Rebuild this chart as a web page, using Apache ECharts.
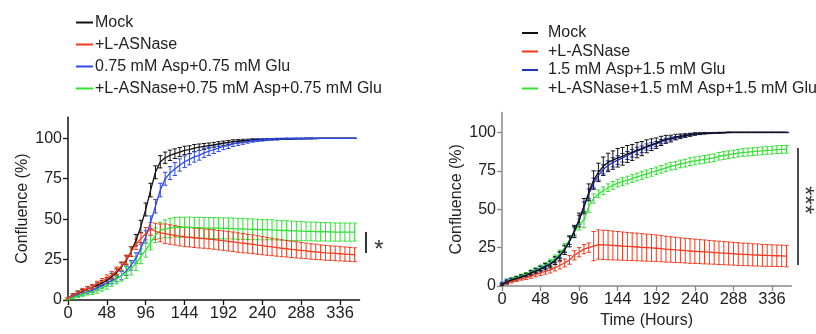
<!DOCTYPE html>
<html><head><meta charset="utf-8">
<script src="https://cdn.jsdelivr.net/npm/echarts@6/dist/echarts.min.js"></script>
<style>html,body{margin:0;padding:0;background:#fff}#c{width:816px;height:334px}</style>
</head><body><div id="c"></div>
<script>
// ---------- DATA ----------
const hours = [0,6,12,18,24,30,36,42,48,54,
 60,66,72,78,84,90,96,102,108,114,
 120,126,132,138,144,150,156,162,168,174,
 180,186,192,198,204,210,216,222,228,234,
 240,246,252,258,264,270,276,282,288,294,
 300,306,312,318,324,330,336,342,348,354];
const xTicks = [0,48,96,144,192,240,288,336];
const yTicks = [0,25,50,75,100];

const leftNames = ['Mock','+L-ASNase','0.75 mM Asp+0.75 mM Glu','+L-ASNase+0.75 mM Asp+0.75 mM Glu'];
const rightNames = ['Mock','+L-ASNase','1.5 mM Asp+1.5 mM Glu','+L-ASNase+1.5 mM Asp+1.5 mM Glu'];

const leftMock = [1,3,4.5,5.5,7,8,9,10.5,12,14.5,
 17,20.5,24.5,30,37,45.5,56,68,79,85.5,
 88,89.5,90.5,91.5,92.5,93,94,94.5,95,95.5,
 96,96.5,97,97.5,98,98.2,98.5,98.7,99,99.1,
 99.2,99.3,99.4,99.5,99.6,99.7,99.7,99.8,99.8,99.9,
 99.9,99.9,100,100,100,100,100,100,100,100];
const leftMockErr = [0.5,0.8,1,1,1.2,1.3,1.5,1.6,1.8,2,
 2.2,2.5,2.8,3,3.5,3.8,4,4.2,4,3.8,
 3.5,3.2,3,2.8,2.6,2.4,2.2,2,1.8,1.6,
 1.5,1.4,1.3,1.2,1.1,1,0.9,0.8,0.7,0.6,
 0.5,0.5,0.4,0.4,0.3,0.3,0.3,0.2,0.2,0.2,
 0.2,0.1,0.1,0.1,0.1,0.1,0.1,0.1,0.1,0.1];
const leftAsnase = [1,3,4.5,6,7,8,10,11.5,13.5,15.5,
 18,21,25,30,34.5,38,41,44,42.5,41.5,
 41,40.5,40,39.5,39,38.8,38.5,38.2,38,37.7,
 37.4,37,36.7,36.3,36,35.5,35.2,34.8,34.5,34,
 33.6,33.2,32.8,32.4,32,31.7,31.3,31,30.7,30.4,
 30,29.8,29.5,29.2,29,28.8,28.6,28.4,28.2,28];
const leftAsnaseErr = [0.5,0.8,1,1.2,1.3,1.5,1.6,1.8,2,2.2,
 2.4,2.6,2.8,3,3.2,3.5,3.8,4,5,5.5,
 6,6,6,6,6,6,6,6,6,6,
 6,6,6,6,6,6,6,5.8,5.8,5.7,
 5.6,5.5,5.4,5.3,5.2,5.1,5,5,4.9,4.8,
 4.8,4.7,4.6,4.6,4.5,4.5,4.4,4.4,4.3,4.3];
const leftAspGlu = [1,2,3,4,5,6,7.5,9,10.5,12,
 13.5,15,18,21.5,26,32,39,48,58,68,
 75,78.5,81,83.5,85.5,87,88.5,89.5,91,92,
 93,94,95,95.5,96.5,97,97.5,98,98.5,98.8,
 99,99.2,99.4,99.5,99.7,99.8,99.8,99.9,99.9,99.9,
 100,100,100,100,100,100,100,100,100,100];
const leftAspGluErr = [0.5,0.8,1,1,1.2,1.3,1.5,1.6,1.8,2,
 2.2,2.5,2.8,3,3.2,3.5,3.8,4,4.2,4.2,
 4,4,4,3.8,3.6,3.4,3.2,3,2.8,2.6,
 2.4,2.2,2,1.8,1.6,1.4,1.2,1,0.9,0.8,
 0.7,0.6,0.5,0.5,0.4,0.4,0.3,0.3,0.2,0.2,
 0.2,0.1,0.1,0.1,0.1,0.1,0.1,0.1,0.1,0.1];
const leftAsnAspGlu = [0.5,1.5,2.5,3.5,4.5,5,6,7.5,9,11,
 13,15,17,19.5,22.5,27,31,35.5,40,43,
 44,44.5,45,45,45,45,44.8,44.8,44.6,44.5,
 44.5,44.4,44.3,44.3,44.2,44,44,43.8,43.7,43.6,
 43.5,43.5,43.4,43.2,43,43,42.8,42.7,42.6,42.5,
 42.4,42.3,42.2,42.2,42.1,42,42,42,42,42];
const leftAsnAspGluErr = [0.5,0.8,1,1.2,1.4,1.6,1.8,2,2.3,2.6,
 3,3.3,3.6,4,4.2,4.5,4.5,4.5,4.5,5,
 5.5,6,6,6.2,6.2,6.3,6.3,6.4,6.4,6.5,
 6.5,6.5,6.5,6.5,6.5,6.5,6.5,6.4,6.4,6.3,
 6.3,6.2,6.2,6.1,6,6,6,5.9,5.9,5.8,
 5.8,5.8,5.7,5.7,5.7,5.6,5.6,5.6,5.6,5.6];

const rightMock = [1,2.5,4,5,6,7,8.5,9.5,11,12.5,
 14,16.5,19.5,23.5,29,35.5,43,52,61,69,
 74,78,80.5,82,83.5,84.5,86,87,88.5,89.5,
 91,92,93,94.5,95.5,96,97,97.5,98,98.5,
 99,99.2,99.5,99.6,99.7,99.8,99.9,100,100,100,
 100,100,100,100,100,100,100,100,100,100];
const rightMockErr = [0.5,1,1,1,1.2,1.3,1.5,1.6,1.8,2,
 2.2,2.5,2.8,3,3.5,4,4.5,5,5.5,6,
 6,6,6,6,6,5.8,5.5,5.2,5,4.6,
 4.2,3.8,3.4,3,2.6,2.2,1.8,1.5,1.2,1,
 0.8,0.6,0.5,0.4,0.3,0.3,0.2,0.2,0.1,0.1,
 0.1,0.1,0.1,0.1,0.1,0.1,0.1,0.1,0.1,0.1];
const rightAsnase = [1,2,3,4,5,5.5,6.5,7.5,8.5,9.5,
 10.5,12,13.5,15,17,20,22,24,25,26,
 27,26.8,26.6,26.4,26.2,26,25.8,25.6,25.4,25.2,
 25,24.8,24.6,24.3,24,23.8,23.5,23.3,23,22.8,
 22.6,22.4,22.2,22,21.8,21.6,21.4,21.2,21,20.8,
 20.6,20.5,20.3,20.2,20,19.9,19.8,19.7,19.6,19.5];
const rightAsnaseErr = [0.5,0.8,1,1,1.2,1.3,1.4,1.5,1.6,1.8,
 2,2.2,2.4,2.6,2.8,3,3,3,3,9.5,
 9.5,9.5,9.5,9.4,9.3,9.2,9.1,9,9,8.9,
 8.8,8.7,8.6,8.5,8.4,8.3,8.2,8.1,8,8,
 7.9,7.8,7.8,7.7,7.6,7.6,7.5,7.5,7.4,7.4,
 7.3,7.3,7.2,7.2,7.1,7.1,7,7,7,7];
const rightAspGlu = [1.5,3,4,5,6,7,8.5,10,11.5,13,
 14.5,17,20,24,29.5,36,43,51.5,60,67,
 72,76,78.5,80.5,82,83.5,85,86.5,88,89,
 90.5,91.5,92.5,94,95,96,96.5,97.5,98,98.5,
 99,99.2,99.4,99.6,99.7,99.8,99.9,100,100,100,
 100,100,100,100,100,100,100,100,100,100];
const rightAspGluErr = [1,1.5,1,1,1,1,1.2,1.3,1.4,1.5,
 1.6,1.8,2,2.2,2.5,2.8,3,3.2,3.2,3.2,
 3,3,3,3,2.8,2.8,2.6,2.5,2.4,2.2,
 2,1.8,1.6,1.4,1.2,1,0.9,0.8,0.7,0.6,
 0.5,0.4,0.3,0.3,0.2,0.2,0.1,0.1,0.1,0.1,
 0.1,0.1,0.1,0.1,0.1,0.1,0.1,0.1,0.1,0.1];
const rightAsnAspGlu = [1,3,4.5,5.5,6.5,7.5,9,10.5,12,13.5,
 15.5,18,21,25,30,35,40,43,52,57,
 60,62,64,65.5,67,68,69,70,71,72,
 73,74,75,76,77,78,78.5,79.5,80,81,
 81.5,82,82.5,83,83.5,84.5,85,85.5,86,86.5,
 87,87.2,87.5,87.8,88,88.3,88.5,88.8,89,89];
const rightAsnAspGluErr = [0.5,1,1,1,1.2,1.3,1.4,1.5,1.6,1.8,
 2,2.2,2.4,2.6,2.8,3,3.5,5,4,3,
 2.5,2.5,2.5,2.5,2.5,2.5,2.5,2.5,2.5,2.5,
 2.5,2.5,2.5,2.5,2.5,2.5,2.5,2.5,2.5,2.5,
 2.5,2.5,2.5,2.5,2.5,2.5,2.5,2.5,2.5,2.5,
 2.5,2.5,2.5,2.5,2.5,2.5,2.5,2.5,2.5,2.5];

// ---------- STYLE ----------
const FONT = '"Liberation Sans", Arial, sans-serif';
const C = {black:'#111111', red:'#f23a1c', blue:'#2b48ee', green:'#33e033'};
const blueR = '#2233c0';

function lineSeries(name, vals, color, idx){
  return {type:'line', name, xAxisIndex:idx, yAxisIndex:idx, showSymbol:false, symbol:'none',
    data: hours.map((h,i)=>[h, vals[i]]), color,
    lineStyle:{color, width:1.3}, itemStyle:{color}, z:3, silent:true};
}
function errSeries(name, vals, errs, color, idx){
  return {type:'custom', name, xAxisIndex:idx, yAxisIndex:idx, silent:true, z:3, color,
    itemStyle:{color},
    data: hours.map((h,i)=>[h, vals[i]-errs[i], vals[i]+errs[i]]),
    renderItem:(params, api)=>{
      const lo = api.coord([api.value(0), api.value(1)]);
      const hi = api.coord([api.value(0), api.value(2)]);
      const w = 2.2;
      const st = {stroke:color, lineWidth:1};
      return {type:'group', children:[
        {type:'line', shape:{x1:lo[0],y1:lo[1],x2:hi[0],y2:hi[1]}, style:st},
        {type:'line', shape:{x1:hi[0]-w,y1:hi[1],x2:hi[0]+w,y2:hi[1]}, style:st},
        {type:'line', shape:{x1:lo[0]-w,y1:lo[1],x2:lo[0]+w,y2:lo[1]}, style:st}
      ]};
    }};
}

function xAx(idx, color, name){
  return {type:'value', gridIndex:idx, min:0, max:360,
    name: name||'', nameLocation:'middle', nameGap:27,
    nameTextStyle:{fontFamily:FONT, fontSize:16, color:'#222'},
    axisLine:{show:true, onZero:false, lineStyle:{color, width:1.5}},
    axisTick:{show:true, length:5, customValues:xTicks, lineStyle:{color, width:1.3}},
    axisLabel:{customValues:xTicks, fontFamily:FONT, fontSize:16.5, color:'#222', margin:5},
    splitLine:{show:false}};
}
function yAx(idx, color){
  return {type:'value', gridIndex:idx, min:0, max:113,
    name:'Confluence (%)', nameLocation:'middle', nameGap:37,
    nameTextStyle:{fontFamily:FONT, fontSize:16, color:'#222'},
    axisLine:{show:true, onZero:false, lineStyle:{color, width:1.5}},
    axisTick:{show:true, length:5, customValues:yTicks, lineStyle:{color, width:1.3}},
    axisLabel:{customValues:yTicks, fontFamily:FONT, fontSize:16, color:'#222', margin:6},
    splitLine:{show:false}};
}

const chart = echarts.init(document.getElementById('c'), null, {renderer:'canvas'});
chart.setOption({
  animation:false,
  backgroundColor:'#fff',
  grid:[
    {left:68, top:117.3, width:291.5, height:182.7},
    {left:502, top:112.5, width:289.3, height:180.8}
  ],
  xAxis:[xAx(0,'#111'), xAx(1,'#888','Time (Hours)')],
  yAxis:[yAx(0,'#111'), yAx(1,'#888')],
  legend:[
    {data:leftNames, orient:'vertical', left:71, top:9.5, itemGap:6, itemWidth:17, itemHeight:2,
     icon:'rect', selectedMode:false,
     textStyle:{fontFamily:FONT, fontSize:16, lineHeight:16, color:'#222', padding:[0,0,0,-3]}},
    {data:rightNames, orient:'vertical', left:517, top:20, itemGap:2.5, itemWidth:16, itemHeight:2,
     icon:'rect', selectedMode:false,
     textStyle:{fontFamily:FONT, fontSize:16, lineHeight:16, color:'#222', padding:[0,0,0,5]}}
  ],
  series:[
    errSeries(leftNames[0], leftMock, leftMockErr, C.black, 0),
    lineSeries(leftNames[0], leftMock, C.black, 0),
    errSeries(leftNames[2], leftAspGlu, leftAspGluErr, C.blue, 0),
    lineSeries(leftNames[2], leftAspGlu, C.blue, 0),
    errSeries(leftNames[3], leftAsnAspGlu, leftAsnAspGluErr, C.green, 0),
    lineSeries(leftNames[3], leftAsnAspGlu, C.green, 0),
    errSeries(leftNames[1], leftAsnase, leftAsnaseErr, C.red, 0),
    lineSeries(leftNames[1], leftAsnase, C.red, 0),

    errSeries(rightNames[3], rightAsnAspGlu, rightAsnAspGluErr, C.green, 1),
    lineSeries(rightNames[3], rightAsnAspGlu, C.green, 1),
    errSeries(rightNames[1], rightAsnase, rightAsnaseErr, C.red, 1),
    lineSeries(rightNames[1], rightAsnase, C.red, 1),
    errSeries(rightNames[2], rightAspGlu, rightAspGluErr, blueR, 1),
    lineSeries(rightNames[2], rightAspGlu, blueR, 1),
    errSeries(rightNames[0], rightMock, rightMockErr, C.black, 1),
    lineSeries(rightNames[0], rightMock, C.black, 1)
  ],
  graphic:[
    {type:'line', shape:{x1:366,y1:232,x2:366,y2:253}, style:{stroke:'#333', lineWidth:2}},
    {type:'text', x:379, y:250, style:{text:'*', fontFamily:FONT, fontSize:24, fill:'#333', align:'center', verticalAlign:'middle'}},
    {type:'line', shape:{x1:798,y1:148,x2:798,y2:265}, style:{stroke:'#111', lineWidth:1.5}},
    {type:'text', x:804, y:200, rotation:-Math.PI/2, style:{text:'***', fontFamily:FONT, fontSize:24, fill:'#333', align:'center', verticalAlign:'middle'}}
  ]
});
</script></body></html>
